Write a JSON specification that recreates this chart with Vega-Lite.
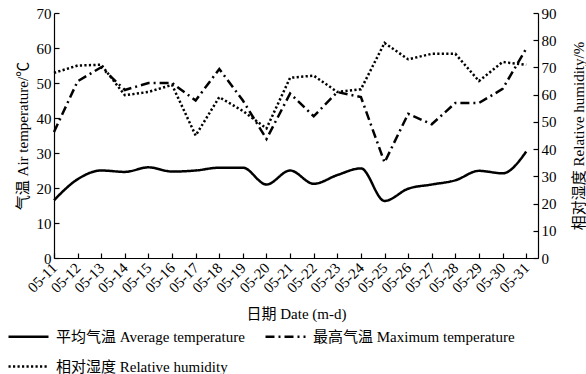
{
  "$schema": "https://vega.github.io/schema/vega-lite/v6.json",
  "width": 484,
  "height": 245,
  "autosize": {"type": "none"},
  "padding": {"left": 54, "top": 13, "right": 48, "bottom": 116},
  "background": "white",
  "config": {
    "font": "Liberation Serif, Noto Sans CJK SC",
    "view": {"stroke": null},
    "axis": {
      "grid": false,
      "domainColor": "black",
      "domainWidth": 1.2,
      "tickColor": "black",
      "tickWidth": 1.2,
      "labelColor": "black",
      "titleColor": "black",
      "labelFont": "Liberation Serif",
      "labelFontSize": 15,
      "titleFontSize": 15,
      "titleFontWeight": "normal",
      "titleFont": "Liberation Serif, Noto Sans CJK SC",
      "labelOverlap": false,
      "labelBound": false
    }
  },
  "datasets": {
    "temp": [
      {"day": 11, "series": "平均气温 Average temperature", "value": 16.5},
      {"day": 12, "series": "平均气温 Average temperature", "value": 22.5},
      {"day": 13, "series": "平均气温 Average temperature", "value": 25.0},
      {"day": 14, "series": "平均气温 Average temperature", "value": 24.6},
      {"day": 15, "series": "平均气温 Average temperature", "value": 25.9},
      {"day": 16, "series": "平均气温 Average temperature", "value": 24.7},
      {"day": 17, "series": "平均气温 Average temperature", "value": 25.0},
      {"day": 18, "series": "平均气温 Average temperature", "value": 25.8},
      {"day": 19, "series": "平均气温 Average temperature", "value": 25.8},
      {"day": 20, "series": "平均气温 Average temperature", "value": 21.0},
      {"day": 21, "series": "平均气温 Average temperature", "value": 25.0},
      {"day": 22, "series": "平均气温 Average temperature", "value": 21.2},
      {"day": 23, "series": "平均气温 Average temperature", "value": 23.7},
      {"day": 24, "series": "平均气温 Average temperature", "value": 25.6},
      {"day": 25, "series": "平均气温 Average temperature", "value": 16.3},
      {"day": 26, "series": "平均气温 Average temperature", "value": 19.8},
      {"day": 27, "series": "平均气温 Average temperature", "value": 21.0},
      {"day": 28, "series": "平均气温 Average temperature", "value": 22.2},
      {"day": 29, "series": "平均气温 Average temperature", "value": 24.9},
      {"day": 30, "series": "平均气温 Average temperature", "value": 24.2},
      {"day": 31, "series": "平均气温 Average temperature", "value": 30.4},
      {"day": 11, "series": "最高气温 Maximum temperature", "value": 36.0},
      {"day": 12, "series": "最高气温 Maximum temperature", "value": 50.5},
      {"day": 13, "series": "最高气温 Maximum temperature", "value": 54.5},
      {"day": 14, "series": "最高气温 Maximum temperature", "value": 48.0},
      {"day": 15, "series": "最高气温 Maximum temperature", "value": 50.0},
      {"day": 16, "series": "最高气温 Maximum temperature", "value": 50.0},
      {"day": 17, "series": "最高气温 Maximum temperature", "value": 45.0},
      {"day": 18, "series": "最高气温 Maximum temperature", "value": 54.0},
      {"day": 19, "series": "最高气温 Maximum temperature", "value": 45.0},
      {"day": 20, "series": "最高气温 Maximum temperature", "value": 34.0},
      {"day": 21, "series": "最高气温 Maximum temperature", "value": 47.0},
      {"day": 22, "series": "最高气温 Maximum temperature", "value": 40.5},
      {"day": 23, "series": "最高气温 Maximum temperature", "value": 47.4},
      {"day": 24, "series": "最高气温 Maximum temperature", "value": 46.0},
      {"day": 25, "series": "最高气温 Maximum temperature", "value": 27.3},
      {"day": 26, "series": "最高气温 Maximum temperature", "value": 41.2},
      {"day": 27, "series": "最高气温 Maximum temperature", "value": 38.2},
      {"day": 28, "series": "最高气温 Maximum temperature", "value": 44.3},
      {"day": 29, "series": "最高气温 Maximum temperature", "value": 44.3},
      {"day": 30, "series": "最高气温 Maximum temperature", "value": 48.3},
      {"day": 31, "series": "最高气温 Maximum temperature", "value": 59.8}
    ],
    "hum": [
      {"day": 11, "series": "相对湿度 Relative humidity", "value": 68.0},
      {"day": 12, "series": "相对湿度 Relative humidity", "value": 70.7},
      {"day": 13, "series": "相对湿度 Relative humidity", "value": 71.0},
      {"day": 14, "series": "相对湿度 Relative humidity", "value": 59.8},
      {"day": 15, "series": "相对湿度 Relative humidity", "value": 61.0},
      {"day": 16, "series": "相对湿度 Relative humidity", "value": 63.6},
      {"day": 17, "series": "相对湿度 Relative humidity", "value": 45.0},
      {"day": 18, "series": "相对湿度 Relative humidity", "value": 59.1},
      {"day": 19, "series": "相对湿度 Relative humidity", "value": 54.0},
      {"day": 20, "series": "相对湿度 Relative humidity", "value": 47.6},
      {"day": 21, "series": "相对湿度 Relative humidity", "value": 66.2},
      {"day": 22, "series": "相对湿度 Relative humidity", "value": 67.0},
      {"day": 23, "series": "相对湿度 Relative humidity", "value": 61.0},
      {"day": 24, "series": "相对湿度 Relative humidity", "value": 62.0},
      {"day": 25, "series": "相对湿度 Relative humidity", "value": 79.0},
      {"day": 26, "series": "相对湿度 Relative humidity", "value": 73.0},
      {"day": 27, "series": "相对湿度 Relative humidity", "value": 75.0},
      {"day": 28, "series": "相对湿度 Relative humidity", "value": 75.0},
      {"day": 29, "series": "相对湿度 Relative humidity", "value": 65.0},
      {"day": 30, "series": "相对湿度 Relative humidity", "value": 72.0},
      {"day": 31, "series": "相对湿度 Relative humidity", "value": 71.0}
    ]
  },
  "encoding": {
    "x": {
      "field": "day",
      "type": "quantitative",
      "scale": {"domain": [11, 31.5], "nice": false, "zero": false},
      "axis": {
        "values": [11,12,13,14,15,16,17,18,19,20,21,22,23,24,25,26,27,28,29,30,31],
        "labelExpr": "'05-' + datum.value",
        "labelAngle": -45,
        "labelAlign": "right",
        "labelBaseline": "middle",
        "tickSize": -5,
        "labelPadding": 12,
        "title": "日期 Date (m-d)",
        "titlePadding": 11
      }
    },
    "strokeDash": {
      "field": "series",
      "type": "nominal",
      "scale": {
        "domain": ["平均气温 Average temperature", "最高气温 Maximum temperature", "相对湿度 Relative humidity"],
        "range": [[1, 0], [9, 4, 2, 4], [2.2, 2.3]]
      },
      "legend": {
        "title": null,
        "orient": "none",
        "legendX": -47,
        "legendY": 302,
        "direction": "horizontal",
        "columns": 2,
        "symbolType": "stroke",
        "symbolSize": 1600,
        "symbolStrokeWidth": 2.5,
        "symbolStrokeColor": "black",
        "labelFont": "Liberation Serif, Noto Sans CJK SC",
        "labelFontSize": 15,
        "labelColor": "black",
        "labelOffset": 6,
        "columnPadding": 15,
        "rowPadding": -30,
        "labelLimit": 400
      }
    }
  },
  "layer": [
    {
      "data": {"name": "temp"},
      "encoding": {
        "y": {"field": "value", "type": "quantitative", "scale": {"domain": [0, 70]},
          "axis": {"title": "气温 Air temperature/℃", "titleColor": "black", "values": [0,10,20,30,40,50,60,70], "tickSize": -5, "labelPadding": 8, "titlePadding": 6}}
      },
      "layer": [
        {
          "transform": [{"filter": "datum.series === '平均气温 Average temperature'"}],
          "mark": {"type": "line", "interpolate": "monotone", "color": "black", "strokeWidth": 2.5}
        },
        {
          "transform": [{"filter": "datum.series === '最高气温 Maximum temperature'"}],
          "mark": {"type": "line", "interpolate": "linear", "color": "black", "strokeWidth": 2.5}
        }
      ]
    },
    {
      "data": {"name": "hum"},
      "mark": {"type": "line", "interpolate": "linear", "color": "black", "strokeWidth": 2.5},
      "encoding": {
        "y": {"field": "value", "type": "quantitative", "scale": {"domain": [0, 90]},
          "axis": {"orient": "right", "title": "相对湿度 Relative humidity/%", "titleColor": "black", "values": [0,10,20,30,40,50,60,70,80,90], "tickSize": -5, "labelPadding": 8, "titleAngle": -90, "titleBaseline": "bottom", "titlePadding": 30}}
      }
    }
  ],
  "resolve": {"scale": {"y": "independent"}}
}
